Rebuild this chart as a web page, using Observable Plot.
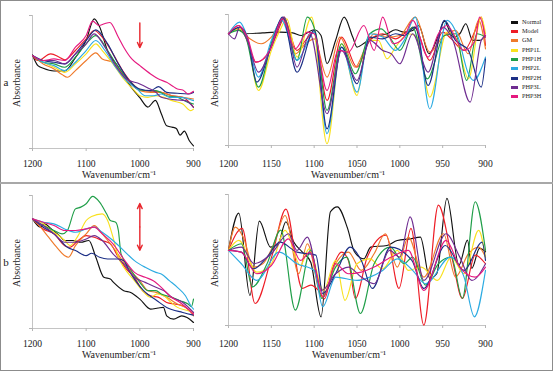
<!DOCTYPE html>
<html><head><meta charset="utf-8">
<script src="https://cdn.jsdelivr.net/npm/d3@7"></script>
<script src="https://cdn.jsdelivr.net/npm/@observablehq/plot@0.6"></script>
<style>
body{margin:0;background:#fff;}
#root{position:relative;width:553px;height:371px;overflow:hidden;font-family:"Liberation Serif","Times New Roman",serif;color:#222;}
.pl{position:absolute;}
.t{position:absolute;transform:translate(-50%,-50%);white-space:nowrap;font-size:10px;line-height:1;}
.rot{transform:translate(-50%,-50%) rotate(-90deg);}
.lg{position:absolute;left:511px;font-size:6.3px;line-height:1;}
.lg i{position:absolute;left:0;top:-1.5px;width:7px;height:3px;}
.lg span{position:absolute;left:11px;top:-3.5px;white-space:nowrap;}
</style></head>
<body><div id="root"></div>
<script>
const names = ["Normal","Model","GM","PHP1L","PHP1H","PHP2L","PHP2H","PHP3L","PHP3H"];
const colors = ["#111111","#ee1c25","#ef7a2b","#f9e11e","#1f9e48","#2cabe2","#1c2f86","#6f2d91","#e5197f"];
const ticksLeft = [1200,1100,1000,900];
const ticksRight = [1200,1150,1100,1050,1000,950,900];
const xTitle = "Wavenumber/cm\u207B\u00B9";
const yTitle = "Absorbance";

// ---- panel a, left (absorbance spectra) [wavenumber, arbitrary absorbance] ----
const aL_Normal = [[1200,70],[1190,62],[1180,60],[1160,58],[1140,58],[1120,68],[1100,81],[1085,97],[1075,91],[1060,73],[1040,61],[1020,48],[1000,38],[985,31],[971,36],[960,26],[950,17],[940,16],[932,15],[925,10],[917,13],[908,6],[900,2]];
const aL_Model = [[1200,69.5],[1190,65.8],[1166,70.8],[1150,68.3],[1140,66.3],[1120,73.3],[1100,82],[1085,88.3],[1070,83.3],[1050,70.8],[1030,57],[1010,47],[1000,43.8],[990,43.3],[975,42.8],[960,42],[940,39.5],[920,38.3],[905,33.3],[900,30.8]];
const aL_GM = [[1200,69.5],[1180,63.3],[1160,59.5],[1145,55.3],[1135,53.3],[1120,58.3],[1100,65.8],[1082,71.5],[1070,67],[1050,64.5],[1030,54.5],[1010,45.8],[1000,43.3],[980,42],[960,42],[940,39.5],[920,38.3],[900,37]];
const aL_PHP1L = [[1200,69.5],[1180,64.5],[1160,60.8],[1140,57],[1120,63.3],[1100,70.8],[1082,78.3],[1070,73.3],[1050,63.3],[1030,52],[1010,43.3],[1000,39.5],[985,38.3],[970,39.5],[955,38.3],[940,35.8],[920,33.3],[905,28.3],[900,29.5]];
const aL_PHP1H = [[1200,69.5],[1180,64.5],[1160,63.3],[1140,60.8],[1120,68.3],[1100,78.3],[1082,84.5],[1060,73.3],[1040,60.8],[1020,50.8],[1000,43.8],[980,43.3],[970,43.3],[950,39.5],[930,38.3],[910,34.5],[900,33.3]];
const aL_PHP2L = [[1200,69.5],[1180,64.5],[1160,62],[1140,58.3],[1120,64.5],[1100,73.3],[1082,80.8],[1065,73.3],[1045,60.8],[1025,50.8],[1005,44.5],[990,39.5],[975,39.5],[960,40.8],[945,38.3],[925,38.3],[900,35.8]];
const aL_PHP2H = [[1200,69.5],[1180,65.8],[1160,64.5],[1140,63.3],[1120,70.8],[1100,80.8],[1082,88.8],[1060,78.3],[1040,63.3],[1020,50.8],[1000,44.5],[980,43.3],[965,46.3],[950,42],[930,41.3],[910,40.8],[900,42]];
const aL_PHP3L = [[1200,69.5],[1180,65.8],[1160,65.8],[1140,63.3],[1120,70.8],[1100,78.3],[1085,85.8],[1065,75.8],[1045,62],[1025,52],[1000,48.3],[985,45.3],[970,42],[960,38.3],[945,37],[930,36.3],[915,35.8],[900,30.8]];
const aL_PHP3H = [[1200,69.5],[1180,65.8],[1160,67],[1140,65.8],[1120,75.8],[1100,84.5],[1088,95.3],[1076,92],[1066,93.3],[1056,94.3],[1040,83.3],[1030,75.8],[1015,67],[1000,62],[980,55.8],[965,52],[950,49.5],[940,47],[930,44.5],[920,43.8],[910,40.8],[900,42.8]];

// ---- panel a, right (second derivative) ----
const aR_Normal = [[1200,83.8],[1190,87.5],[1180,83.8],[1160,84.5],[1140,85],[1125,84.5],[1115,82.5],[1100,86.8],[1092,82.5],[1085,61.3],[1075,78.8],[1065,96.3],[1055,81.3],[1050,73.8],[1040,77.5],[1030,81.3],[1015,83.8],[1005,86.8],[995,85],[985,86.3],[978,90],[966,68.8],[955,82.5],[948,93.3],[938,81.3],[930,83.8],[923,91.3],[915,78.8],[907,78.8],[900,82.5]];
const aR_Model = [[1200,83.8],[1188,90],[1180,81.3],[1168,62.5],[1155,67.5],[1145,81.3],[1135,95],[1120,71.3],[1110,78.8],[1100,85],[1085,33.8],[1068,81.3],[1050,58.8],[1035,78.8],[1020,83.8],[1005,80],[995,83.8],[983,88.8],[965,63.8],[950,85],[940,80],[925,71.3],[912,86.3],[905,96.3],[900,75]];
const aR_GM = [[1200,83.8],[1188,87.5],[1175,80],[1162,76.3],[1150,81.3],[1135,96.3],[1122,68.8],[1110,76.3],[1100,80],[1085,51.3],[1070,81.3],[1052,58.8],[1040,73.8],[1030,83.8],[1015,81.3],[1000,82.5],[982,96.3],[965,70],[950,81.3],[935,86.3],[920,68.8],[908,93.8],[900,72.5]];
const aR_PHP1L = [[1200,83.8],[1188,87.5],[1180,83.8],[1165,41.3],[1150,71.3],[1140,86.3],[1132,95],[1120,66.3],[1103,96.3],[1085,1.3],[1068,76.3],[1050,37.5],[1038,78.8],[1025,78.8],[1015,65],[1005,73.8],[990,83.8],[980,81.3],[965,36.3],[945,85],[935,81.3],[920,50],[905,96.3],[900,83.8]];
const aR_PHP1H = [[1200,83.8],[1188,86.3],[1180,81.3],[1165,43.8],[1148,81.3],[1135,95],[1120,63.8],[1108,96.3],[1098,83.8],[1085,26.3],[1068,76.3],[1052,53.8],[1035,83.8],[1022,87.5],[1012,81.3],[1000,71.3],[985,88.8],[968,50],[948,82.5],[935,83.8],[922,48.8],[910,83.8],[900,81.3]];
const aR_PHP2L = [[1200,83.8],[1187,92.5],[1180,85],[1165,51.3],[1150,78.8],[1138,93.8],[1120,63.8],[1100,85],[1085,8.8],[1068,73.8],[1050,40],[1035,83.8],[1020,81.3],[1005,71.3],[995,78.8],[982,96.3],[965,27.5],[945,93.8],[932,81.3],[920,53.8],[914,48.8],[900,66.3]];
const aR_PHP2H = [[1200,83.8],[1187,88.8],[1178,81.3],[1167,47.5],[1150,75],[1137,96.3],[1120,55],[1100,86.3],[1085,12.5],[1068,73.8],[1050,46.3],[1035,81.3],[1020,80],[1005,83.8],[995,82.5],[982,88.8],[967,45],[948,93.8],[935,78.8],[920,71.3],[905,43.8],[900,65]];
const aR_PHP3L = [[1200,83.8],[1193,80],[1187,88.8],[1178,78.8],[1165,55],[1150,73.8],[1135,96.3],[1120,58.8],[1105,83.8],[1085,23.8],[1068,71.3],[1050,48.8],[1035,78.8],[1020,71.3],[1010,68.8],[1000,61.3],[985,83.8],[967,55],[950,88.8],[938,78.8],[918,32.5],[905,78.8],[900,82.5]];
const aR_PHP3H = [[1200,83.8],[1188,90],[1178,81.3],[1168,62.5],[1152,71.3],[1137,95],[1122,72.5],[1108,85],[1100,83.8],[1085,41.3],[1072,71.3],[1060,70],[1042,90],[1030,71.3],[1020,96.3],[1008,76.3],[995,81.3],[985,93.8],[967,66.3],[955,83.8],[945,90],[925,71.3],[912,78.8],[907,96.3],[900,81.3]];

// ---- panel b, left ----
const bL_Normal = [[1200,82],[1185,75.8],[1178,78.3],[1165,74.5],[1150,69.5],[1140,65.8],[1125,65.8],[1110,64.5],[1095,65.8],[1082,53.3],[1067,38.3],[1055,37],[1049,34.5],[1030,28.3],[1017,27],[1000,22],[980,14.5],[966,15.3],[956,15.8],[950,9.5],[937,7],[922,9.5],[912,8.3],[900,4.5]];
const bL_Model = [[1200,82],[1180,74.5],[1160,70.8],[1140,62],[1130,60.8],[1115,65.8],[1100,69.5],[1085,68.3],[1070,65.8],[1055,63.3],[1040,53.3],[1025,44.5],[1010,38.3],[995,28.3],[980,24.5],[965,23.3],[950,19.5],[935,18.3],[920,17],[900,10.8]];
const bL_GM = [[1200,82],[1185,75.8],[1170,68.3],[1155,60.8],[1140,54.5],[1133,53.3],[1120,62],[1100,70.8],[1085,77],[1070,70.8],[1050,60.8],[1030,49.5],[1015,42],[1000,35.8],[985,28.3],[970,27],[950,23.3],[930,18.3],[910,14.5],[900,9.5]];
const bL_PHP1L = [[1200,82],[1180,78.3],[1160,72],[1140,65.8],[1130,62],[1115,69.5],[1100,80.8],[1090,83.8],[1070,85.8],[1060,80.8],[1050,68.3],[1040,53.3],[1030,45.8],[1010,35.8],[995,28.3],[980,23.3],[968,25.8],[955,24.5],[945,20.8],[930,15.8],[910,13.3],[900,12]];
const bL_PHP1H = [[1200,82],[1180,77],[1160,73.3],[1145,70.8],[1135,73.3],[1120,89.5],[1110,90.8],[1100,93.3],[1088,98.8],[1075,94.5],[1062,85.8],[1055,80.8],[1045,79.5],[1040,73.3],[1035,55.8],[1020,45.8],[1000,34.5],[985,28.3],[970,28.3],[960,25.8],[940,23.3],[925,20.8],[910,18.3],[904,16.3],[900,22]];
const bL_PHP2L = [[1200,82],[1180,79.5],[1160,78.3],[1140,74.5],[1120,72],[1100,74.5],[1085,75.8],[1070,72],[1050,65.8],[1030,58.3],[1010,50.8],[990,45.8],[970,42],[960,40.8],[945,35.8],[930,30.8],[915,24.5],[905,17],[900,14.5]];
const bL_PHP2H = [[1200,82],[1180,75.8],[1160,70.8],[1135,60.8],[1120,58.3],[1100,54.5],[1090,56.3],[1075,53.3],[1060,52],[1040,52],[1030,50.8],[1020,43.3],[993,28.3],[968,20.8],[950,15.8],[920,12],[900,10]];
const bL_PHP3L = [[1200,82],[1180,77],[1160,70.8],[1140,64.5],[1120,64.5],[1100,67],[1085,69.5],[1070,65.8],[1050,55.8],[1030,48.3],[1010,38.3],[990,34.5],[970,30.8],[955,28.3],[940,23.3],[920,19.5],[900,12]];
const bL_PHP3H = [[1200,82],[1180,79.5],[1160,77],[1140,73.3],[1120,73.3],[1100,74.5],[1085,75.8],[1070,70.8],[1050,63.3],[1030,52],[1010,42],[990,38.3],[975,35.8],[960,30.8],[945,24.5],[925,19.5],[900,10.8]];

// ---- panel b, right ----
const bR_Normal = [[1200,56.3],[1188,84.3],[1175,22.5],[1164,78.3],[1151,58.8],[1142,61.3],[1133,77.8],[1124,62.8],[1114,55.3],[1104,47.5],[1092,6.5],[1081,85.3],[1073,89],[1061,72.8],[1053,55.3],[1042,50],[1034,58.8],[1015,60],[1003,63.8],[988,65],[976,66.3],[965,35.3],[957,38.8],[945,95.3],[931,45.3],[921,64],[916,42.8],[907,57.8],[900,55.3]];
const bR_Model = [[1200,56.3],[1184,72.8],[1169,16.5],[1149,52.8],[1133,87.3],[1114,27.8],[1104,30.3],[1095,26.3],[1088,20],[1078,43.8],[1068,55],[1060,48.8],[1052,20.3],[1038,51.3],[1016,67.8],[1001,27.8],[987,72.8],[972,0.3],[955,90.3],[939,50.3],[927,20.3],[912,52.8],[900,46.3]];
const bR_GM = [[1200,56.3],[1192,73.8],[1182,65],[1171,43.8],[1160,46.3],[1147,61.3],[1134,82.5],[1118,38.8],[1108,61.3],[1091,21.3],[1075,46.3],[1060,55],[1045,41.3],[1030,53.8],[1017,68.8],[1003,43.8],[990,66.3],[972,36.3],[949,68.8],[935,36.3],[920,53.8],[908,58.8],[900,51.3]];
const bR_PHP1L = [[1200,56.3],[1188,63.8],[1167,40],[1150,46.3],[1134,71.3],[1116,45],[1106,57.5],[1089,26.3],[1075,48.8],[1064,18.8],[1050,46.3],[1035,50],[1020,42.5],[1003,56.3],[990,41.3],[975,43.8],[956,33.8],[940,51.3],[925,38.8],[908,71.3],[900,51.3]];
const bR_PHP1H = [[1200,56.3],[1185,61.3],[1172,29],[1155,46.3],[1139,71.5],[1122,11.5],[1104,56.5],[1091,20.3],[1075,43.8],[1062,51.3],[1046,9],[1030,46.3],[1011,58.8],[995,46.3],[985,51.3],[970,30.3],[955,46.3],[940,51.3],[927,20.3],[912,92.8],[900,56.3]];
const bR_PHP2L = [[1200,56.3],[1185,46.3],[1167,33.8],[1141,55],[1120,46.3],[1100,41.3],[1090,14],[1075,36.3],[1050,33.8],[1035,36.3],[1020,41.3],[1003,50],[985,41.3],[970,31.3],[941,51.3],[925,36.3],[913,6.5],[900,41.3]];
const bR_PHP2H = [[1200,56.3],[1185,55],[1171,42.5],[1155,51.3],[1140,62.5],[1120,55],[1098,52.8],[1090,23.8],[1075,38.8],[1058,58.8],[1045,48.8],[1032,27.8],[1011,58.8],[986,48.8],[972,27.8],[947,60],[925,41.3],[904,62.5],[900,48.8]];
const bR_PHP3L = [[1200,56.3],[1185,58.8],[1170,46.3],[1150,53.8],[1130,68.8],[1120,56.3],[1108,66.3],[1091,26.3],[1075,38.8],[1060,43.8],[1045,36.3],[1030,31.3],[1012,56.3],[1000,51.3],[988,81.5],[972,33.8],[946,68.8],[930,51.3],[916,33.8],[900,46.3]];
const bR_PHP3H = [[1200,56.3],[1185,55],[1167,38.8],[1150,45],[1130,65],[1116,48.8],[1105,55],[1089,21.3],[1075,46.3],[1060,38.8],[1045,40],[1030,43.8],[1010,51.3],[990,56.3],[972,26.3],[946,63.8],[930,43.8],[912,36.3],[900,43.8]];

// arrows (data units of the left panels)
const arrowA = [{x: 1000, y1: 94, y2: 75.5}];
const arrowB = [{x: 1000, y1: 76, y2: 93.5}, {x: 1000, y1: 76, y2: 58.5}];

function rows(list) {
  const out = [];
  list.forEach((arr, i) => arr.forEach(([w, v]) => out.push({w, v, s: names[i]})));
  return out;
}
const panels = [
  {id:"aL", data:[aL_Normal,aL_Model,aL_GM,aL_PHP1L,aL_PHP1H,aL_PHP2L,aL_PHP2H,aL_PHP3L,aL_PHP3H], left:0, top:0, w:205, h:182, ml:32, mr:12, mt:15, mb:34, ymax:99.5, ticks:ticksLeft, pad:8.5, arrows:arrowA},
  {id:"aR", data:[aR_Normal,aR_Model,aR_GM,aR_PHP1L,aR_PHP1H,aR_PHP2L,aR_PHP2H,aR_PHP3L,aR_PHP3H], left:205, top:0, w:290, h:182, ml:23, mr:10, mt:14, mb:37, ymax:98.25, ticks:ticksRight, pad:11.5},
  {id:"bL", data:[bL_Normal,bL_Model,bL_GM,bL_PHP1L,bL_PHP1H,bL_PHP2L,bL_PHP2H,bL_PHP3L,bL_PHP3H], left:0, top:184, w:205, h:187, ml:32, mr:12, mt:11, mb:43, ymax:99.5, ticks:ticksLeft, pad:8.5, arrows:arrowB},
  {id:"bR", data:[bR_Normal,bR_Model,bR_GM,bR_PHP1L,bR_PHP1H,bR_PHP2L,bR_PHP2H,bR_PHP3L,bR_PHP3H], left:205, top:184, w:290, h:187, ml:23, mr:10, mt:10, mb:46, ymax:98.25, ticks:ticksRight, pad:11.5}
];

const root = document.getElementById("root");
for (const p of panels) {
  const marks = [
    Plot.ruleY([0], {stroke: "#c4c4c4", strokeWidth: 1}),
    Plot.ruleX([1200], {stroke: "#c4c4c4", strokeWidth: 1}),
    Plot.axisX({ticks: p.ticks, tickFormat: "d", tickSize: 3, tickPadding: p.pad, stroke: "#b5b5b5", fill: "#222", fontSize: 9.6, label: null}),
    Plot.axisY({ticks: [0, p.ymax], tickFormat: () => "", tickSize: 3, stroke: "#b5b5b5", label: null}),
    Plot.line(rows(p.data), {x: "w", y: "v", z: "s", stroke: "s", curve: "monotone-x", strokeWidth: 1.15})
  ];
  if (p.arrows) {
    marks.push(Plot.arrow(p.arrows, {x1: "x", x2: "x", y1: "y1", y2: "y2", stroke: "#e8262d", strokeWidth: 1.4, headLength: 6, headAngle: 50}));
  }
  const svg = Plot.plot({
    width: p.w, height: p.h,
    marginLeft: p.ml, marginRight: p.mr, marginTop: p.mt, marginBottom: p.mb,
    x: {domain: [1200, 900]},
    y: {domain: [0, p.ymax]},
    color: {domain: names, range: colors},
    style: {fontFamily: "'Liberation Serif', 'Times New Roman', serif", fontSize: "10px", background: "transparent", overflow: "visible"},
    marks
  });
  svg.classList.add("pl");
  svg.style.left = p.left + "px";
  svg.style.top = p.top + "px";
  root.appendChild(svg);
}

function addText(txt, x, y, cls) {
  const d = document.createElement("div");
  d.className = "t" + (cls ? " " + cls : "");
  d.style.left = x + "px"; d.style.top = y + "px";
  d.textContent = txt;
  root.appendChild(d);
  return d;
}
addText(xTitle, 119, 175); addText(xTitle, 348, 175);
addText(xTitle, 119, 355); addText(xTitle, 349, 354.5);
addText(yTitle, 17, 83, "rot"); addText(yTitle, 215, 83, "rot");
addText(yTitle, 17, 263, "rot"); addText(yTitle, 215, 263, "rot");
addText("a", 6, 82).style.fontSize = "11px";
addText("b", 6, 262).style.fontSize = "11px";

names.forEach((n, i) => {
  const d = document.createElement("div");
  d.className = "lg";
  d.style.top = (22 + i * 9.35) + "px";
  d.innerHTML = `<i style="background:${colors[i]}"></i><span>${n}</span>`;
  root.appendChild(d);
});

// frame and separator
const frame = document.createElement("div");
frame.style.cssText = "position:absolute;left:0;top:0;width:551px;height:369px;border:1px solid #8c8c8c;pointer-events:none;";
root.appendChild(frame);
const sep = document.createElement("div");
sep.style.cssText = "position:absolute;left:0;top:182px;width:553px;height:2px;background:#a8a8a8;";
root.appendChild(sep);
</script>
</body></html>
